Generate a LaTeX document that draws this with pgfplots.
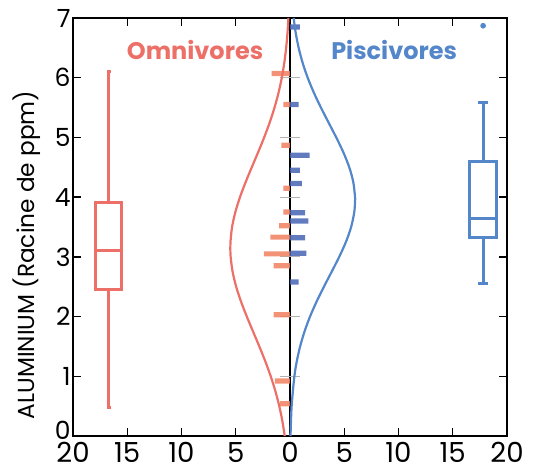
\documentclass[border=0pt]{standalone}
\usepackage{pgfplots}
\pgfplotsset{compat=1.18}
\usepgfplotslibrary{statistics}
\usepackage{fontspec}
\setmainfont{Poppins}
\definecolor{omni}{RGB}{236,112,104}
\definecolor{pisc}{RGB}{84,134,202}
\definecolor{omnibar}{RGB}{240,128,96}
\definecolor{piscbar}{RGB}{70,100,180}
\begin{document}
\begin{tikzpicture}
\begin{axis}[
  name=ax, scale only axis, width=217pt, height=209pt,
  xmin=-20, xmax=20, ymin=0, ymax=7,
  xtick={-20,-15,...,20}, xticklabels={20,15,10,5,0,5,10,15,20},
  ytick={1,2,...,7},
  extra y ticks={0},
  extra y tick style={yticklabel style={yshift=3pt}},
  tick align=inside, xtick pos=both, ytick pos=both,
  major tick length=4pt,
  axis line style={line width=0.9pt},
  every tick/.style={black, line width=0.7pt},
  /pgf/number format/assume math mode=true,
  xticklabel style={font=\fontsize{13.8}{13.8}\selectfont, inner sep=0.5pt, yshift=-2.5pt},
  yticklabel style={font=\fontsize{12.5}{12.5}\selectfont, inner sep=1pt},
  ylabel={ALUMINIUM (Racine de ppm)},
  ylabel style={font=\fontsize{11.6}{11.6}\selectfont, at={(axis description cs:-0.106,0.433)}, anchor=center},
  clip=false,
]
% centre line
\addplot[black, line width=0.8pt] coordinates {(0,0) (0,7)};
% small grey ticks on centre line
\addplot[gray!60, line width=0.5pt, unbounded coords=jump] coordinates {
 (-0.9,1) (0.9,1) (nan,nan) (-0.9,2) (0.9,2) (nan,nan) (-0.9,3) (0.9,3) (nan,nan)
 (-0.9,4) (0.9,4) (nan,nan) (-0.9,5) (0.9,5) (nan,nan) (-0.9,6) (0.9,6)};
% rug bars
\addplot[xbar, bar width=2.6pt, bar shift=0pt, draw=none, fill=omnibar, fill opacity=0.85] coordinates {
 (-1.7,6.07) (-0.6,5.55) (-0.8,4.87) (-0.6,4.15) (-0.6,3.75) (-1.0,3.52) (-1.8,3.33)
 (-2.4,3.05) (-1.5,2.85) (-1.5,2.03) (-1.4,0.92) (-0.9,0.54)};
\addplot[xbar, bar width=2.6pt, bar shift=0pt, draw=none, fill=piscbar, fill opacity=0.85] coordinates {
 (0.9,6.85) (0.8,5.55) (1.8,4.70) (0.9,4.45) (1.1,4.23) (1.4,3.74) (1.7,3.60)
 (1.4,3.32) (1.5,3.06) (0.8,2.58)};
% density curves
\addplot[omni, line width=1.1pt, smooth] coordinates {
 (-0.486,0) (-0.703,0.25) (-0.988,0.5) (-1.345,0.75) (-1.777,1) (-2.275,1.25)
 (-2.827,1.5) (-3.407,1.75) (-3.980,2) (-4.511,2.25) (-4.960,2.5) (-5.289,2.75)
 (-5.470,3) (-5.500,3.15) (-5.487,3.25) (-5.338,3.5) (-5.036,3.75) (-4.609,4)
 (-4.091,4.25) (-3.523,4.5) (-2.941,4.75) (-2.382,5) (-1.871,5.25) (-1.426,5.5)
 (-1.053,5.75) (-0.755,6) (-0.525,6.25) (-0.354,6.5) (-0.231,6.75) (-0.147,7)};
\addplot[pisc, line width=1.1pt, smooth] coordinates {
 (0.048,0) (0.150,0.5) (0.404,1) (0.626,1.25) (0.933,1.5) (1.339,1.75) (1.846,2)
 (2.449,2.25) (3.127,2.5) (3.839,2.75) (4.535,3) (5.155,3.25) (5.635,3.5)
 (5.926,3.75) (6.000,3.95) (5.995,4) (5.835,4.25) (5.463,4.5) (4.920,4.75)
 (4.263,5) (3.553,5.25) (2.849,5.5) (2.198,5.75) (1.631,6) (1.164,6.25)
 (0.799,6.5) (0.528,6.75) (0.335,7)};
% box plots
\addplot[omni, line width=1.5pt, boxplot/draw direction=y,
  boxplot prepared={lower whisker=0.48, lower quartile=2.45, median=3.10,
  upper quartile=3.91, upper whisker=6.10, draw position=-16.7,
  box extend=2.4, whisker extend=0.4}] coordinates {};
\addplot[pisc, line width=1.5pt, boxplot/draw direction=y,
  boxplot prepared={lower whisker=2.55, lower quartile=3.33, median=3.64,
  upper quartile=4.59, upper whisker=5.59, draw position=17.8,
  box extend=2.5, whisker extend=0.9}] coordinates {};
\addplot[pisc, only marks, mark=*, mark size=1.2pt] coordinates {(17.8,6.87)};
% group labels
\node[omni, font=\fontsize{12}{12}\selectfont\bfseries] at (axis cs:-8.75,6.47) {Omnivores};
\node[pisc, font=\fontsize{12}{12}\selectfont\bfseries] at (axis cs:9.6,6.47) {Piscivores};
\end{axis}
\pgfresetboundingbox
\path (-36.5pt,-17.5pt) rectangle (232pt,218pt);
\end{tikzpicture}
\end{document}
